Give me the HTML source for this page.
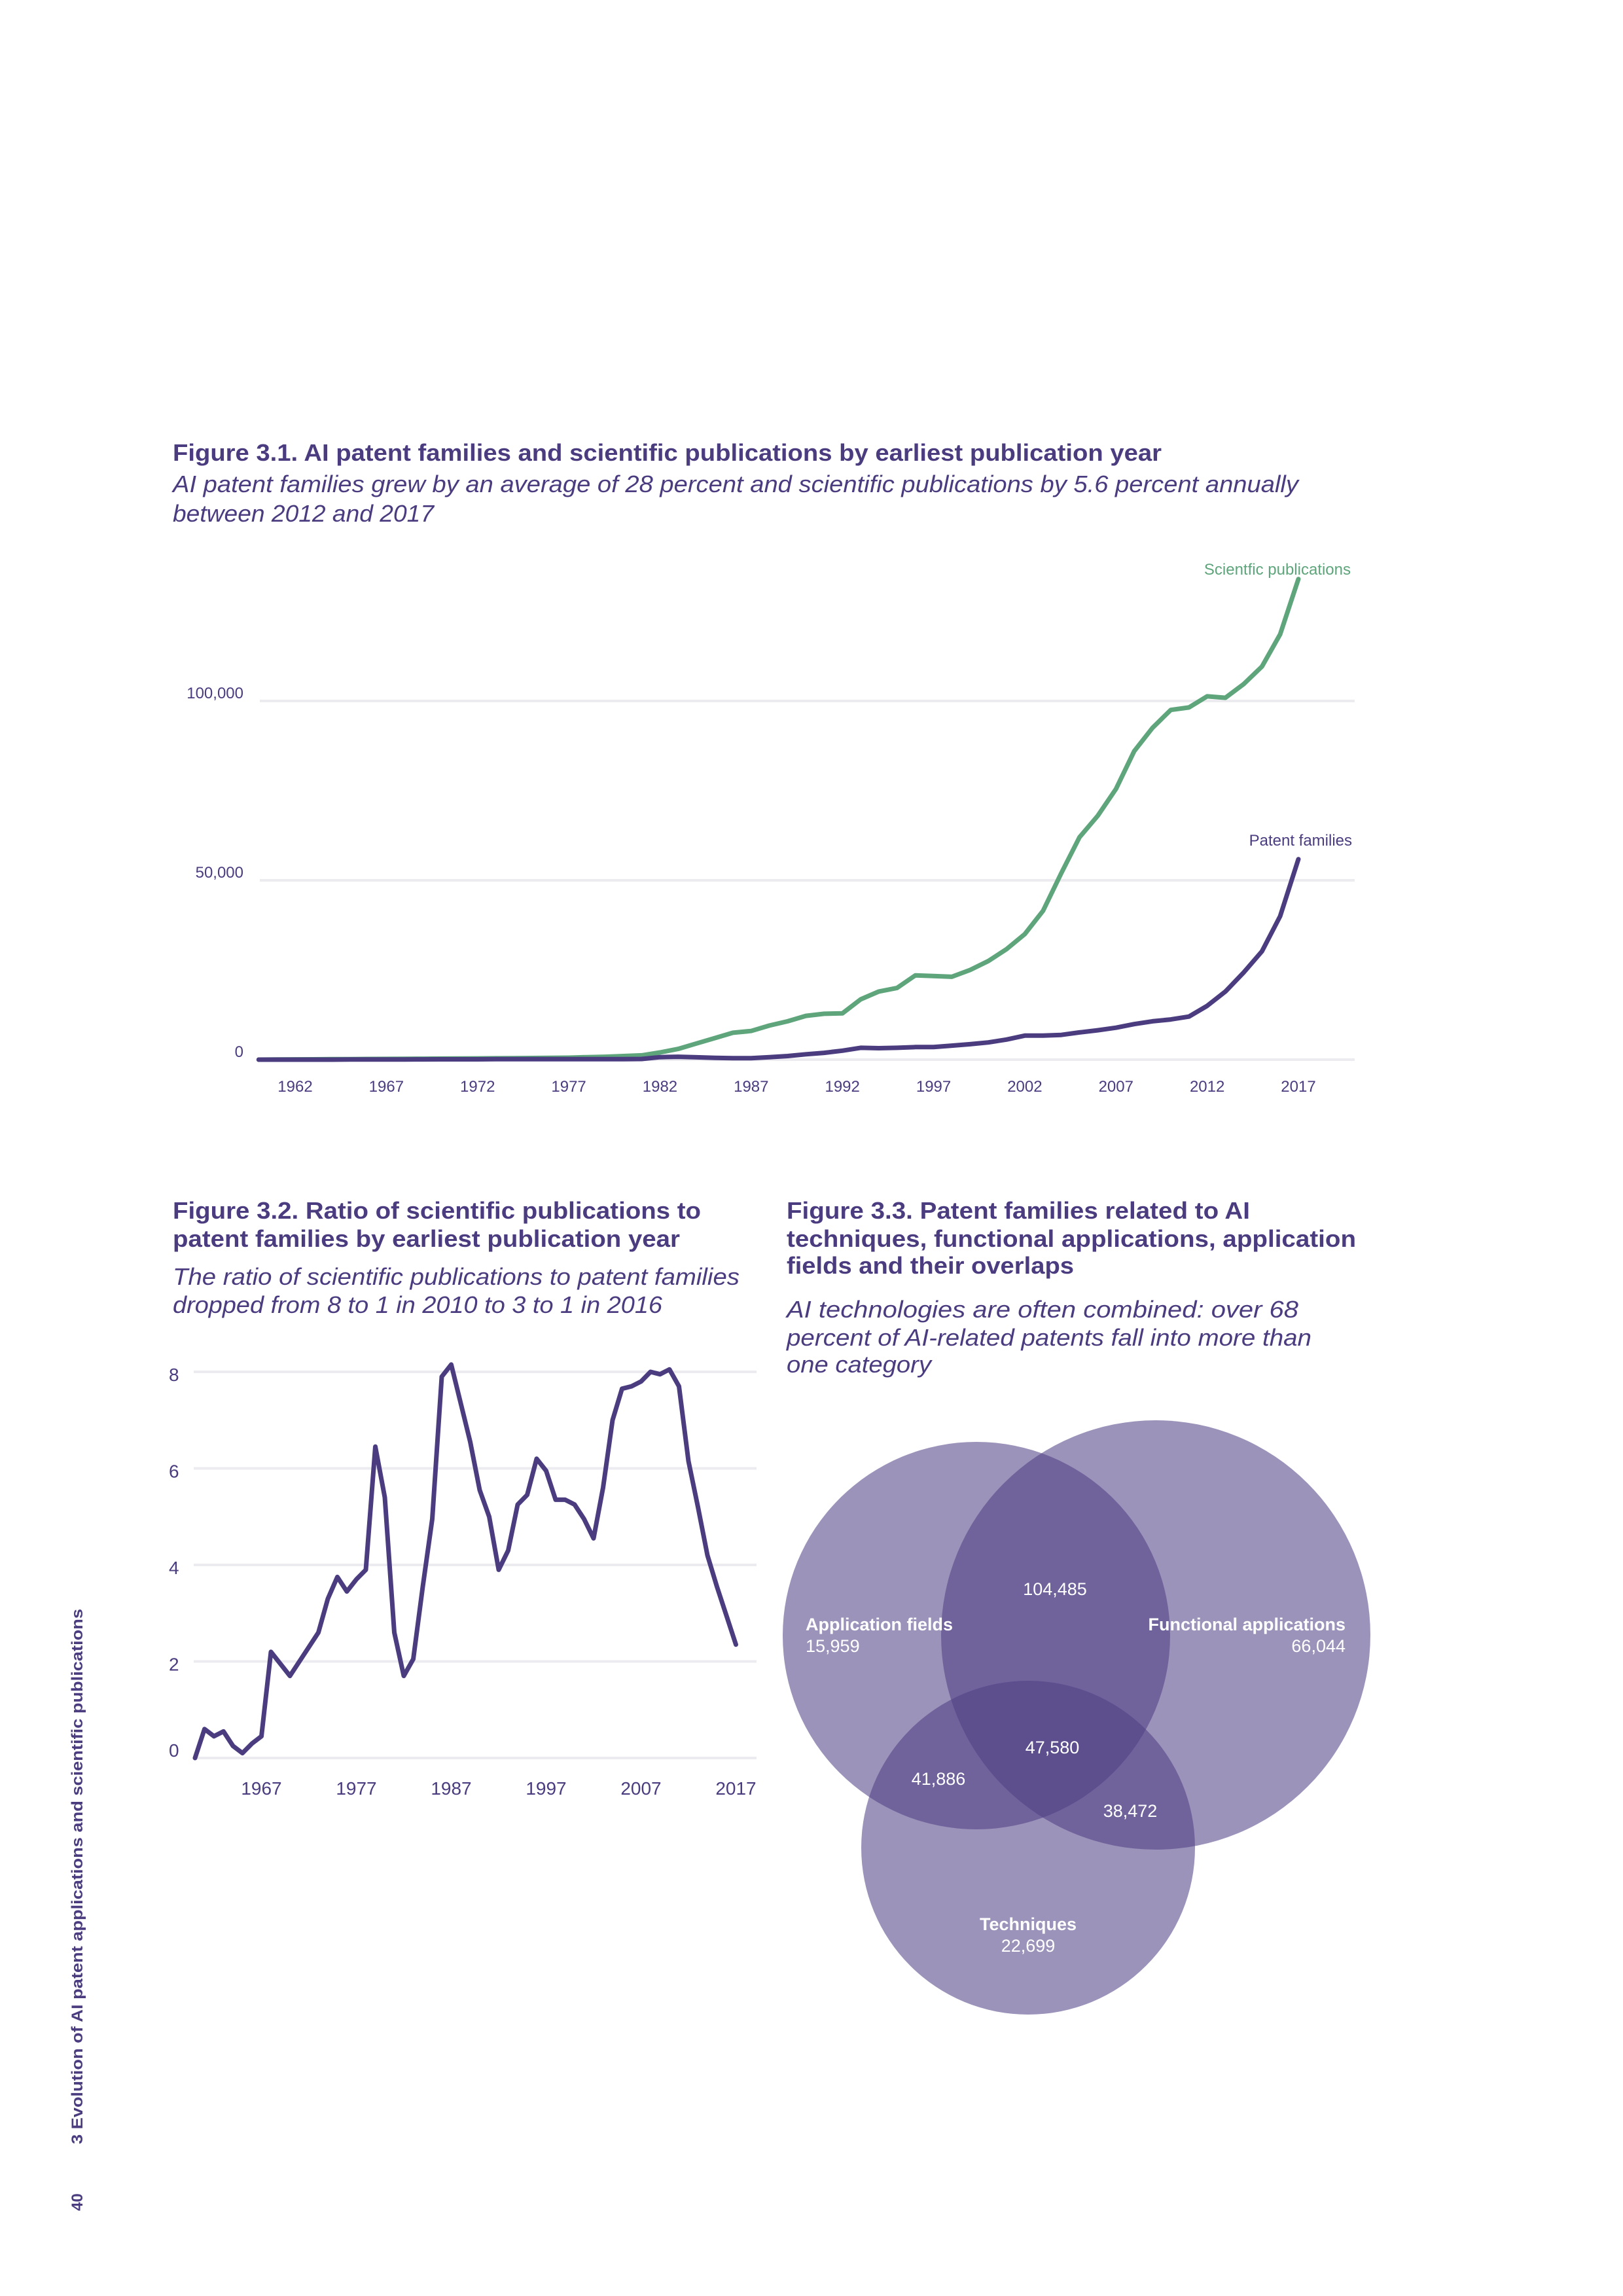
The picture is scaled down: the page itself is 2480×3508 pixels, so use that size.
<!DOCTYPE html>
<html><head><meta charset="utf-8"><style>
html,body{margin:0;padding:0;background:#fff}
svg{display:block}
text{font-family:"Liberation Sans",sans-serif}
</style></head><body>
<svg id="page" width="2480" height="3508" viewBox="0 0 2480 3508" xmlns="http://www.w3.org/2000/svg">
<rect width="2480" height="3508" fill="#fff"/>
<g fill="#4b3c80">
<text x="264" y="704" font-size="36" font-weight="bold" textLength="1511" lengthAdjust="spacingAndGlyphs">Figure 3.1. AI patent families and scientific publications by earliest publication year</text>
<text x="264" y="752" font-size="36" font-style="italic" textLength="1720" lengthAdjust="spacingAndGlyphs">AI patent families grew by an average of 28 percent and scientific publications by 5.6 percent annually</text>
<text x="264" y="797" font-size="36" font-style="italic" textLength="399" lengthAdjust="spacingAndGlyphs">between 2012 and 2017</text>

<text x="264" y="1862" font-size="36" font-weight="bold" textLength="807" lengthAdjust="spacingAndGlyphs">Figure 3.2. Ratio of scientific publications to</text>
<text x="264" y="1905" font-size="36" font-weight="bold" textLength="775" lengthAdjust="spacingAndGlyphs">patent families by earliest publication year</text>
<text x="264" y="1963" font-size="36" font-style="italic" textLength="866" lengthAdjust="spacingAndGlyphs">The ratio of scientific publications to patent families</text>
<text x="264" y="2006" font-size="36" font-style="italic" textLength="748" lengthAdjust="spacingAndGlyphs">dropped from 8 to 1 in 2010 to 3 to 1 in 2016</text>

<text x="1202" y="1862" font-size="36" font-weight="bold" textLength="708" lengthAdjust="spacingAndGlyphs">Figure 3.3. Patent families related to AI</text>
<text x="1202" y="1905" font-size="36" font-weight="bold" textLength="870" lengthAdjust="spacingAndGlyphs">techniques, functional applications, application</text>
<text x="1202" y="1946" font-size="36" font-weight="bold" textLength="439" lengthAdjust="spacingAndGlyphs">fields and their overlaps</text>
<text x="1202" y="2013" font-size="36" font-style="italic" textLength="782" lengthAdjust="spacingAndGlyphs">AI technologies are often combined: over 68</text>
<text x="1202" y="2056" font-size="36" font-style="italic" textLength="802" lengthAdjust="spacingAndGlyphs">percent of AI-related patents fall into more than</text>
<text x="1202" y="2097" font-size="36" font-style="italic" textLength="221" lengthAdjust="spacingAndGlyphs">one category</text>

<text transform="translate(126,3276) rotate(-90)" font-size="24" font-weight="bold" textLength="818" lengthAdjust="spacingAndGlyphs">3 Evolution of AI patent applications and scientific publications</text>
<text transform="translate(126,3378) rotate(-90)" font-size="24" font-weight="bold">40</text>
</g>
<g id="fig1"></g>
<g id="fig2"></g>
<g id="fig3">
<g fill="rgb(79,63,132)" fill-opacity="0.5625">
<circle cx="1492" cy="2499" r="296"/>
<circle cx="1766" cy="2498" r="328"/>
<circle cx="1571" cy="2823" r="255"/>
</g>
<g fill="#fff" font-size="27">
<text x="1231" y="2491" font-weight="bold">Application fields</text>
<text x="1231" y="2524">15,959</text>
<text x="2056" y="2491" font-weight="bold" text-anchor="end">Functional applications</text>
<text x="2056" y="2524" text-anchor="end">66,044</text>
<text x="1612" y="2437" text-anchor="middle">104,485</text>
<text x="1608" y="2679" text-anchor="middle">47,580</text>
<text x="1434" y="2727" text-anchor="middle">41,886</text>
<text x="1727" y="2776" text-anchor="middle">38,472</text>
<text x="1571" y="2949" font-weight="bold" text-anchor="middle">Techniques</text>
<text x="1571" y="2982" text-anchor="middle">22,699</text>
</g>
</g>
</svg>
<script>
const NS="http://www.w3.org/2000/svg";
// Figure 3.1 data
const years1=[1960,1961,1962,1963,1964,1965,1966,1967,1968,1969,1970,1971,1972,1973,1974,1975,1976,1977,1978,1979,1980,1981,1982,1983,1984,1985,1986,1987,1988,1989,1990,1991,1992,1993,1994,1995,1996,1997,1998,1999,2000,2001,2002,2003,2004,2005,2006,2007,2008,2009,2010,2011,2012,2013,2014,2015,2016,2017];
const sciPubs=[0,50,80,100,120,150,180,200,220,250,300,320,340,380,420,450,500,550,700,800,1000,1200,2000,3000,4500,6000,7500,8000,9500,10700,12200,12800,12900,16800,19000,20000,23500,23300,23100,25000,27500,30800,35000,41500,52000,62000,68000,75500,86000,92500,97500,98200,101300,100900,104700,109600,118600,134000];
const patFams=[0,0,0,0,0,50,50,50,50,80,100,100,100,120,120,150,150,150,150,150,150,180,700,800,650,500,400,400,700,1000,1500,1900,2500,3300,3200,3300,3500,3500,3900,4300,4800,5600,6700,6700,6900,7600,8200,8900,9900,10700,11200,12000,15000,19000,24300,30200,40000,55900];
const yTicks1=[0,50000,100000];
const yTickLabels1=["0","50,000","100,000"];
const xTicks1=[1962,1967,1972,1977,1982,1987,1992,1997,2002,2007,2012,2017];
// Figure 3.2 data
const years2=[1960,1961,1962,1963,1964,1965,1966,1967,1968,1969,1970,1971,1972,1973,1974,1975,1976,1977,1978,1979,1980,1981,1982,1983,1984,1985,1986,1987,1988,1989,1990,1991,1992,1993,1994,1995,1996,1997,1998,1999,2000,2001,2002,2003,2004,2005,2006,2007,2008,2009,2010,2011,2012,2013,2014,2015,2016,2017];
const ratio=[0,0.6,0.45,0.55,0.25,0.1,0.3,0.45,2.2,1.95,1.7,2.0,2.3,2.6,3.3,3.75,3.45,3.7,3.9,6.45,5.4,2.6,1.7,2.05,3.55,4.95,7.9,8.15,7.35,6.55,5.55,5.0,3.9,4.3,5.25,5.45,6.2,5.95,5.35,5.35,5.25,4.95,4.55,5.6,7.0,7.65,7.7,7.8,8.0,7.95,8.05,7.7,6.15,5.2,4.2,3.55,2.95,2.35];
const yTicks2=[0,2,4,6,8];
const xTicks2=[1967,1977,1987,1997,2007,2017];

function mk(tag,attrs,parent){const e=document.createElementNS(NS,tag);for(const k in attrs)e.setAttribute(k,attrs[k]);parent.appendChild(e);return e;}

// Fig 1
const g1=document.getElementById('fig1');
const x1=y=>451+(y-1962)*(1984-451)/55;
const y1=v=>1619-v*(1619-1071)/100000;
yTicks1.forEach((t,i)=>{
  const l=mk('line',{x1:397,x2:2070,y1:y1(t),y2:y1(t),stroke:'#ececf0','stroke-width':4},g1);
  
  
  const tx=mk('text',{x:372,y:y1(t)-4,'font-size':24,fill:'#4b3c80','text-anchor':'end'},g1);
  tx.textContent=yTickLabels1[i];
  
  
});
xTicks1.forEach(t=>{
  const tx=mk('text',{x:x1(t),y:1668,'font-size':24,fill:'#4b3c80','text-anchor':'middle'},g1);
  tx.textContent=t;
  
  
});
function line(g,xs,ys,fx,fy,color,name){
  const d=xs.map((x,i)=>(i?'L':'M')+fx(x).toFixed(1)+','+fy(ys[i]).toFixed(1)).join('');
  const p=mk('path',{d:d,fill:'none',stroke:color,'stroke-width':7,'stroke-linejoin':'round','stroke-linecap':'round'},g);
  
  
}
line(g1,years1,sciPubs,x1,y1,'#5ea57c','scientific-publications-line');
line(g1,years1,patFams,x1,y1,'#4b3c80','patent-families-line');
const ls=mk('text',{x:2064,y:878,'font-size':24,fill:'#5ea57c','text-anchor':'end'},g1);
ls.textContent='Scientfic publications';


const lp=mk('text',{x:2066,y:1292,'font-size':24,fill:'#4b3c80','text-anchor':'end'},g1);
lp.textContent='Patent families';



// Fig 2
const g2=document.getElementById('fig2');
const x2=y=>298+(y-1960)*14.5;
const y2=v=>2686-v*(2686-2096)/8;
yTicks2.forEach(t=>{
  const l=mk('line',{x1:296,x2:1156,y1:y2(t),y2:y2(t),stroke:'#ececf0','stroke-width':4},g2);
  
  
  const tx=mk('text',{x:258,y:y2(t)+(t===0?-2:14),'font-size':28,fill:'#4b3c80'},g2);
  tx.textContent=t;
  
  
});
xTicks2.forEach(t=>{
  const tx=mk('text',{x:x2(t),y:2742,'font-size':28,fill:'#4b3c80','text-anchor':'middle'},g2);
  tx.textContent=t;
  
  
});
line(g2,years2,ratio,x2,y2,'#4b3c80','ratio-line');
</script>
</body></html>
